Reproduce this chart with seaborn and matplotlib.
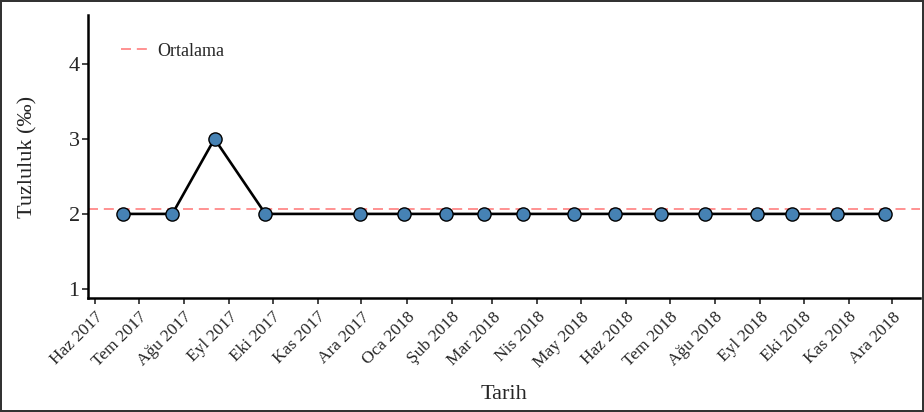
import matplotlib
matplotlib.use("Agg")
import matplotlib.pyplot as plt
import seaborn as sns
import pandas as pd
import numpy as np

dates = ["2017-06-20", "2017-07-24", "2017-08-22", "2017-09-26", "2017-11-30",
         "2017-12-30", "2018-01-28", "2018-02-23", "2018-03-22", "2018-04-26",
         "2018-05-24", "2018-06-25", "2018-07-25", "2018-08-30", "2018-09-23",
         "2018-10-24", "2018-11-26"]
salinity = [2, 2, 3, 2, 2, 2, 2, 2, 2, 2, 2, 2, 2, 2, 2, 2, 2]
tick_labels = ["Haz 2017", "Tem 2017", "Ağu 2017", "Eyl 2017", "Eki 2017", "Kas 2017",
               "Ara 2017", "Oca 2018", "Şub 2018", "Mar 2018", "Nis 2018", "May 2018",
               "Haz 2018", "Tem 2018", "Ağu 2018", "Eyl 2018", "Eki 2018", "Kas 2018",
               "Ara 2018"]

df = pd.DataFrame({"Tarih": pd.to_datetime(dates), "Tuzluluk": salinity})

sns.set_theme(style="white")
plt.rcParams['font.family'] = ['Liberation Serif', 'DejaVu Serif']

fig = plt.figure(figsize=(9.24, 4.12), dpi=100)
fig.patch.set_edgecolor("#333333")
fig.patch.set_linewidth(1.5)
ax = fig.add_axes([0.0952, 0.2767, 0.9005, 0.687])

sns.lineplot(data=df, x="Tarih", y="Tuzluluk", ax=ax, color="black", linewidth=1.9,
             marker="o", markersize=9.5, markerfacecolor="#4682B4",
             markeredgecolor="black", markeredgewidth=1.0, zorder=3)

mean_val = np.mean(salinity)
ax.axhline(mean_val, color="#FF7F7F", linestyle=(0, (6, 3.5)), linewidth=1.2,
           label="Ortalama", zorder=2)

ax.set_ylim(0.88, 4.65)
ax.set_yticks([1, 2, 3, 4])
ax.set_xlim(pd.Timestamp("2017-05-27"), pd.Timestamp("2018-12-20"))
ticks = pd.date_range("2017-06-01", "2018-12-01", freq="MS")
ax.set_xticks(ticks)
ax.set_xticklabels(tick_labels, rotation=45, ha="right", rotation_mode="anchor", fontsize=12.5)
ax.tick_params(axis="y", labelsize=16, length=4, width=1.2, direction="out", left=True, pad=2)
ax.tick_params(axis="x", length=4, width=1.2, direction="out", bottom=True, pad=4)

for s in ["top", "right"]:
    ax.spines[s].set_visible(False)
for s in ["left", "bottom"]:
    ax.spines[s].set_color("black")
    ax.spines[s].set_linewidth(1.8)

ax.set_xlabel("Tarih", fontsize=16, labelpad=10)
ax.set_ylabel("Tuzluluk (‰)", fontsize=16, labelpad=22)

ax.legend(loc="upper left", frameon=False, fontsize=13, bbox_to_anchor=(0.02, 0.96),
          handlelength=1.5, handletextpad=0.5)

fig.savefig("out.png", dpi=100, edgecolor=fig.get_edgecolor())
